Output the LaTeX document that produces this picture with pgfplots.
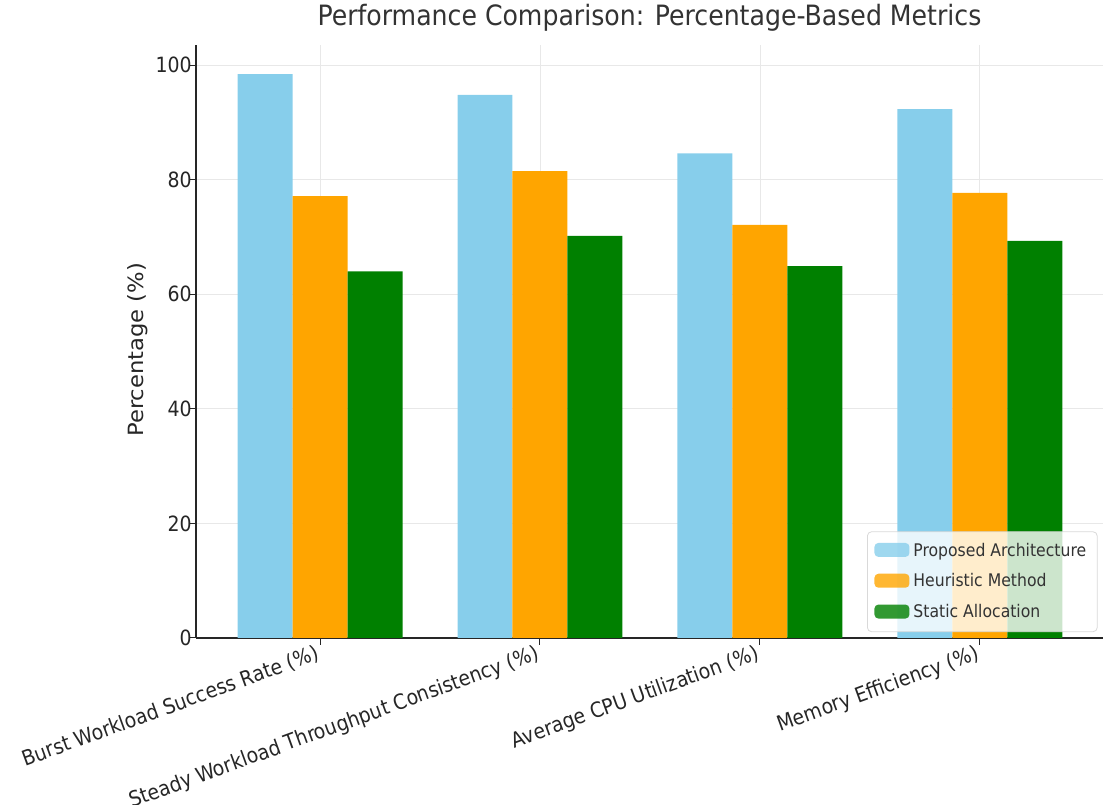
\documentclass[border=0pt]{standalone}
\usepackage{graphicx}
\usepackage{pgfplots}
\pgfplotsset{compat=1.18}
\usepackage{fontspec}
\setmainfont{DejaVu Sans Condensed}
\definecolor{skyb}{RGB}{135,206,235}
\definecolor{orng}{RGB}{255,165,0}
\definecolor{grn}{RGB}{0,128,0}
\begin{document}
\begin{tikzpicture}
\begin{axis}[
 width=453.5pt, height=296.5pt, scale only axis,
 xmin=-0.564, xmax=3.56, ymin=0, ymax=103.5,
 clip=false,
 axis x line*=bottom, axis y line*=left,
 every outer x axis line/.append style={-},
 every outer y axis line/.append style={-},
 axis line style={black!85, line width=0.6pt},
 ybar, bar width=0.25,
 xtick={0,1,2,3},
 xticklabels={Burst Workload Success Rate (\%),Steady Workload Throughput Consistency (\%),Average CPU Utilization (\%),Memory Efficiency (\%)},
 ytick={0,20,40,60,80,100},
 grid=major, major grid style={gray!18, line width=0.4pt},
 tick style={black!85, line width=0.5pt}, major tick length=3.5pt,
 tick align=outside,
 /pgf/number format/assume math mode=true,
 xticklabel style={rotate=20, anchor=north east, font=\fontsize{10.5}{12}\selectfont, inner sep=1pt, xshift=-1pt, yshift=2.5pt, text=black!85},
 yticklabel style={font=\fontsize{10.5}{12}\selectfont, inner sep=1pt, xshift=2.5pt, text=black!85},
 ylabel={\scalebox{1.2}[1]{Percentage (\%)}},
 ylabel style={at={(axis description cs:-0.064,0.486)}, anchor=center, font=\fontsize{10.5}{12}\selectfont, text=black!85},
 title={Performance Comparison: Percentage-Based Metrics},
 title style={at={(axis description cs:0.5,1)}, anchor=base, yshift=3.5pt, font=\fontsize{14}{16}\selectfont, text=black!80},
 legend style={at={(axis description cs:0.994,0.01)}, anchor=south east, draw=gray!30, rounded corners=2pt, fill=white, fill opacity=0.8, text opacity=1, font=\fontsize{8.7}{10}\selectfont, row sep=3.3pt, inner sep=3.5pt, text=black!80},
 legend cell align=left,
 legend image code/.code={\fill[#1] (0pt,-3pt) rectangle (17.5pt,4pt);},
]
\addplot[fill=skyb, draw=none, bar shift=-0.25] coordinates {(0,98.4) (1,94.8) (2,84.6) (3,92.3)};
\addplot[fill=orng, draw=none, bar shift=0] coordinates {(0,77.1) (1,81.5) (2,72.1) (3,77.7)};
\addplot[fill=grn, draw=none, bar shift=0.25] coordinates {(0,64.0) (1,70.2) (2,64.9) (3,69.3)};
\legend{Proposed Architecture,Heuristic Method,Static Allocation}
\coordinate (bl) at (rel axis cs:0,0);
\coordinate (tr) at (rel axis cs:1,1);
\end{axis}
\pgfresetboundingbox
\path ([xshift=-98pt,yshift=-83.5pt]bl) rectangle ([xshift=1pt,yshift=22.5pt]tr);
\end{tikzpicture}
\end{document}
